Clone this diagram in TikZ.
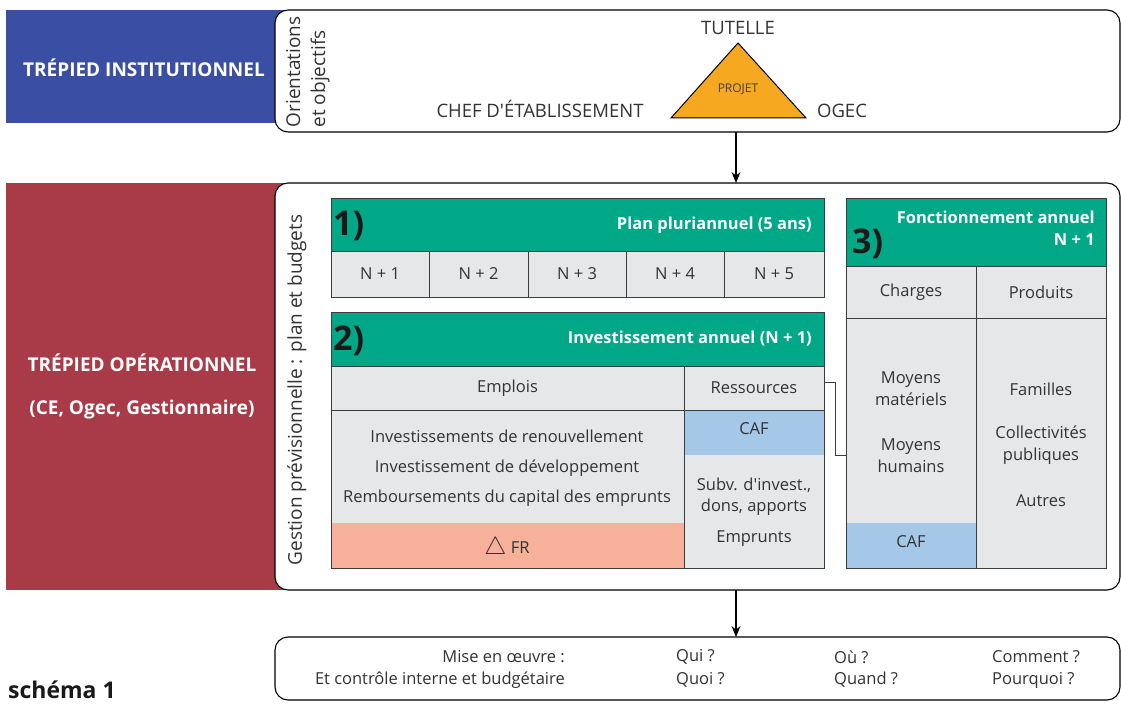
\documentclass[tikz,border=0pt]{standalone}
\usepackage{fontspec}
\setmainfont{Open Sans}[Ligatures=TeXOff]
\usetikzlibrary{arrows.meta}
\definecolor{instblue}{HTML}{3A4FA3}
\definecolor{opred}{HTML}{A83B47}
\definecolor{hdgreen}{HTML}{00A887}
\definecolor{cellgray}{HTML}{E6E7E8}
\definecolor{cafblue}{HTML}{A6C8E8}
\definecolor{frsalmon}{HTML}{F7B09A}
\definecolor{projorange}{HTML}{F6A821}
\definecolor{txt}{HTML}{333333}
\definecolor{linegray}{HTML}{3C3C3C}
\begin{document}
\begin{tikzpicture}[x=1pt,y=-1pt,
  area/.style={inner sep=0pt, outer sep=0pt, anchor=north west},
  band/.style={area, draw=none},
  rbox/.style={area, draw=black, line width=1.1pt, fill=white, rounded corners=13pt},
  cell/.style={area, draw=linegray, line width=0.9pt, fill=cellgray, text=txt, font=\fontsize{16.5}{20}\selectfont},
  hdr/.style={area, draw=linegray, line width=0.9pt, fill=hdgreen},
  fillonly/.style={area, draw=none},
  outline/.style={draw=linegray, line width=0.9pt},
  lbl/.style={text=txt, font=\fontsize{16.5}{20}\selectfont, inner sep=0pt},
  wtitle/.style={text=white, font=\bfseries\fontsize{19}{23}\selectfont, inner sep=0pt},
  htitle/.style={text=white, font=\bfseries\fontsize{16.5}{20}\selectfont, inner sep=0pt, anchor=east},
  num/.style={text=black!90, font=\bfseries\fontsize{34}{34}\selectfont, inner sep=0pt, anchor=west},
  qtxt/.style={text=txt, font=\fontsize{16.5}{19}\selectfont, inner sep=0pt},
  arr/.style={line width=1.3pt, -{Stealth[length=11pt,width=9pt]}},
  conn/.style={draw=linegray, line width=0.9pt}]
\useasboundingbox (0,0) rectangle (1121,708);
% left colour bands
\node[band, fill=instblue, minimum width=279pt, minimum height=113pt] (inst) at (6,10) {};
\node[band, fill=opred, minimum width=279pt, minimum height=407pt] (oper) at (6,183) {};
\node[wtitle] (instt) at (144,68) {TRÉPIED INSTITUTIONNEL};
\node[wtitle] (opert) at (142,363) {TRÉPIED OPÉRATIONNEL};
\node[wtitle] (opers) at (142,410) {(CE, Ogec, Gestionnaire)};
% rounded boxes
\node[rbox, minimum width=845pt, minimum height=122pt] (topbox) at (275,10) {};
\node[rbox, minimum width=845pt, minimum height=407pt] (opbox) at (275,183) {};
\node[rbox, minimum width=845pt, minimum height=63pt] (qbox) at (275,637) {};
% top box content
\node[lbl, font=\fontsize{19}{25}\selectfont, rotate=90, align=left] (orient) at (308,72) {Orientations\\et objectifs};
\coordinate (apex) at (738,43);
\coordinate (bl) at (671,118);
\coordinate (br) at (806,118);
\draw[fill=projorange, draw=black, line width=1pt, line join=miter] (apex) -- (br) -- (bl) -- cycle;
\node[lbl, font=\fontsize{12}{14}\selectfont, text=black!75] (projet) at (738,89) {PROJET};
\node[lbl, font=\fontsize{18.5}{22}\selectfont] (tutelle) at (738,28) {TUTELLE};
\node[lbl, font=\fontsize{18.5}{22}\selectfont] (chef) at (540,109) {CHEF D'ÉTABLISSEMENT};
\node[lbl, font=\fontsize{18.5}{22}\selectfont] (ogec) at (842,111) {OGEC};
% arrows
\coordinate (ax) at (736,0);
\draw[arr] (topbox.south -| ax) -- (opbox.north -| ax);
\draw[arr] (opbox.south -| ax) -- (qbox.north -| ax);
% side label
\node[lbl, font=\fontsize{19}{22}\selectfont, rotate=90] (gest) at (297,390) {Gestion prévisionnelle : plan et budgets};
% table 1
\node[hdr, minimum width=493pt, minimum height=53pt] (h1) at (331,198) {};
\node[num] (n1t) at (333,226) {1)};
\node[htitle] (h1t) at (812,225) {Plan pluriannuel (5 ans)};
\node[cell, minimum width=98pt, minimum height=46pt] (y1) at (331,251) {N + 1};
\node[cell, minimum width=99pt, minimum height=46pt] (y2) at (429,251) {N + 2};
\node[cell, minimum width=98pt, minimum height=46pt] (y3) at (528,251) {N + 3};
\node[cell, minimum width=98pt, minimum height=46pt] (y4) at (626,251) {N + 4};
\node[cell, minimum width=100pt, minimum height=46pt] (y5) at (724,251) {N + 5};
% table 2
\node[hdr, minimum width=493pt, minimum height=54pt] (h2) at (331,312) {};
\node[num] (n2t) at (333,341) {2)};
\node[htitle] (h2t) at (812,339) {Investissement annuel (N + 1)};
\node[cell, minimum width=353pt, minimum height=44pt] (empl) at (331,366) {Emplois};
\node[cell, minimum width=140pt, minimum height=44pt] (ress) at (684,366) {Ressources};
\node[fillonly, fill=cellgray, minimum width=353pt, minimum height=113pt] (emplbody) at (331,410) {};
\node[fillonly, fill=frsalmon, minimum width=353pt, minimum height=45pt] (fr) at (331,523) {};
\node[fillonly, fill=cafblue, minimum width=140pt, minimum height=45pt] (caf1) at (684,410) {};
\node[fillonly, fill=cellgray, minimum width=140pt, minimum height=113pt] (ressbody) at (684,455) {};
\draw[outline] (emplbody.north west) rectangle (fr.south east);
\draw[outline] (caf1.north west) rectangle (ressbody.south east);
\node[lbl, align=center, font=\fontsize{16.5}{30}\selectfont] (empltxt) at (507,468) {Investissements de renouvellement\\Investissement de développement\\Remboursements du capital des emprunts};
\node[lbl] (frt) at (507,548) {\raisebox{-0.5pt}{\fontsize{24}{24}\selectfont$\bigtriangleup$} FR};
\node[lbl] (caf1t) at (754,429) {CAF};
\node[lbl, align=center, font=\fontsize{16.5}{21}\selectfont] (subv) at (754,497) {Subv. d'invest.,\\dons, apports};
\node[lbl] (empr) at (754,539) {Emprunts};
% table 3
\node[hdr, minimum width=260pt, minimum height=68pt] (h3) at (846,198) {};
\node[num] (n3t) at (852,244) {3)};
\node[htitle] (h3t) at (1095,217) {Fonctionnement annuel};
\node[htitle] (h3n) at (1095,240) {N + 1};
\node[cell, minimum width=130pt, minimum height=52pt] (charg) at (846,266) {Charges};
\node[cell, minimum width=130pt, minimum height=52pt] (prod) at (976,266) {Produits};
\node[fillonly, fill=cellgray, minimum width=130pt, minimum height=205pt] (chbody) at (846,318) {};
\node[fillonly, fill=cafblue, minimum width=130pt, minimum height=45pt] (caf2) at (846,523) {};
\node[cell, minimum width=130pt, minimum height=250pt] (prbody) at (976,318) {};
\draw[outline] (chbody.north west) rectangle (caf2.south east);
\node[lbl, align=center, font=\fontsize{16.5}{22}\selectfont] (mmat) at (911,389) {Moyens\\matériels};
\node[lbl, align=center, font=\fontsize{16.5}{22}\selectfont] (mhum) at (911,456) {Moyens\\humains};
\node[lbl] (caf2t) at (911,542) {CAF};
\node[lbl] (fam) at (1041,389) {Familles};
\node[lbl, align=center, font=\fontsize{16.5}{22}\selectfont] (coll) at (1041,445) {Collectivités\\publiques};
\node[lbl] (autr) at (1041,501) {Autres};
% connector
\draw[conn] ([yshift=6pt]ress.east) -- ++(11,0) |- ([yshift=-35pt]chbody.west);
% bottom box
\node[qtxt, anchor=east] (mise) at (565,657) {Mise en œuvre :};
\node[qtxt, anchor=east] (ctrl) at (565,680) {Et contrôle interne et budgétaire};
\node[qtxt, anchor=west] (qui) at (676,657) {Qui ?};
\node[qtxt, anchor=west] (quoi) at (676,680) {Quoi ?};
\node[qtxt, anchor=west] (ou) at (834,657) {Où ?};
\node[qtxt, anchor=west] (quand) at (834,680) {Quand ?};
\node[qtxt, anchor=west] (comm) at (992,657) {Comment ?};
\node[qtxt, anchor=west] (pourq) at (992,680) {Pourquoi ?};
\node[inner sep=0pt, anchor=west, text=black!90, font=\bfseries\fontsize{23}{26}\selectfont] (schema) at (8,690) {schéma 1};
\end{tikzpicture}
\end{document}
